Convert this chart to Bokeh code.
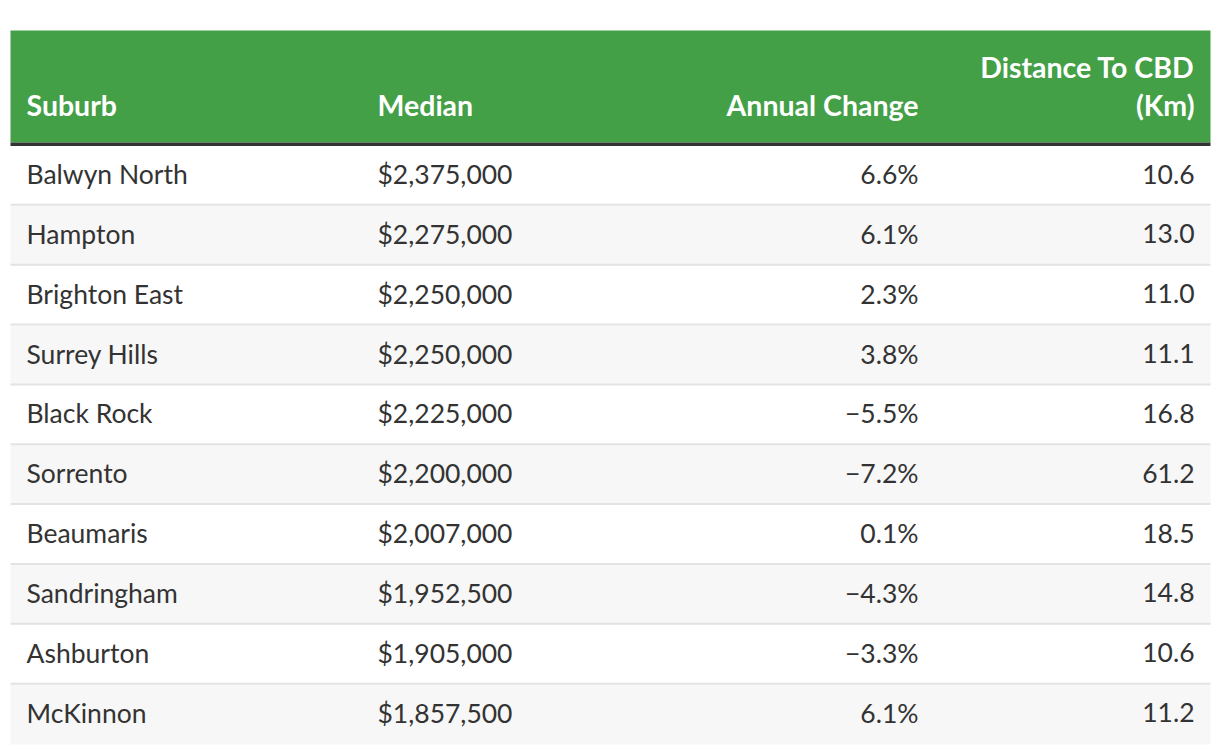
from bokeh.plotting import figure
from bokeh.models import Range1d
from bokeh.core.properties import value
from bokeh.embed import file_html
from bokeh.resources import INLINE

# ---- data ----
suburbs = ["Balwyn North", "Hampton", "Brighton East", "Surrey Hills", "Black Rock",
           "Sorrento", "Beaumaris", "Sandringham", "Ashburton", "McKinnon"]
median = [2375000, 2275000, 2250000, 2250000, 2225000, 2200000, 2007000, 1952500, 1905000, 1857500]
annual_change = [6.6, 6.1, 2.3, 3.8, -5.5, -7.2, 0.1, -4.3, -3.3, 6.1]
distance = [10.6, 13.0, 11.0, 11.1, 16.8, 61.2, 18.5, 14.8, 10.6, 11.2]
headers = [["Suburb"], ["Median"], ["Annual Change"], ["Distance To CBD", "(Km)"]]

# ---- layout (page pixel coordinates) ----
FONT = "Lato"
W, H = 1212, 746
T_LEFT, T_RIGHT = 10, 1210
HEAD_TOP, HEAD_BOT = 30, 142
RULE_BOT = 145.5
ROW_H = 59.85
col_x = [26, 377, 918, 1194]
col_align = ["left", "left", "right", "right"]
BODY_SIZE = "26.5px"
HEAD_SIZE = "28.5px"

p = figure(width=W, height=H, output_backend="svg", toolbar_location=None,
           x_range=Range1d(0, W), y_range=Range1d(H, 0),
           min_border=0)
p.axis.visible = False
p.grid.visible = False
p.outline_line_color = None
p.background_fill_color = "white"
p.border_fill_color = "white"

# header
p.quad(left=[T_LEFT], right=[T_RIGHT], top=[HEAD_TOP], bottom=[HEAD_BOT],
       fill_color="#43a047", line_color=None)
p.quad(left=[T_LEFT], right=[T_RIGHT], top=[HEAD_BOT], bottom=[RULE_BOT],
       fill_color="#333333", line_color=None)

n = len(suburbs)
tops = [RULE_BOT + ROW_H * i for i in range(n)]
bots = [t + ROW_H for t in tops]
fills = ["#ffffff" if i % 2 == 0 else "#f7f7f7" for i in range(n)]
p.quad(left=[T_LEFT] * n, right=[T_RIGHT] * n, top=tops, bottom=bots,
       fill_color=fills, line_color=None)
# separators (all but last row)
p.quad(left=[T_LEFT] * (n - 1), right=[T_RIGHT] * (n - 1),
       top=[b - 2 for b in bots[:-1]], bottom=bots[:-1],
       fill_color="#e3e3e3", line_color=None)

# header texts
HEAD_BASE = 104
HEAD_LH = 38
for c, lines in enumerate(headers):
    k = len(lines)
    ys = [HEAD_BASE - HEAD_LH * (k - 1 - j) for j in range(k)]
    p.text(x=[col_x[c]] * k, y=ys, text=lines, text_align=col_align[c],
           text_baseline="alphabetic", text_color="white",
           text_font=value(FONT), text_font_style="bold", text_font_size=HEAD_SIZE)

def fmt_money(v):
    return "${:,}".format(v)

def fmt_pct(v):
    s = "{:.1f}%".format(abs(v))
    return ("\u2212" + s) if v < 0 else s

cols = [suburbs,
        [fmt_money(v) for v in median],
        [fmt_pct(v) for v in annual_change],
        ["{:.1f}".format(v) for v in distance]]
bases = [t + 28 for t in tops]
for c in range(4):
    p.text(x=[col_x[c]] * n, y=bases, text=cols[c], text_align=col_align[c],
           text_baseline="alphabetic", text_color="#333333",
           text_font=value(FONT), text_font_size=BODY_SIZE)

open("out.html", "w").write(file_html(p, INLINE))
